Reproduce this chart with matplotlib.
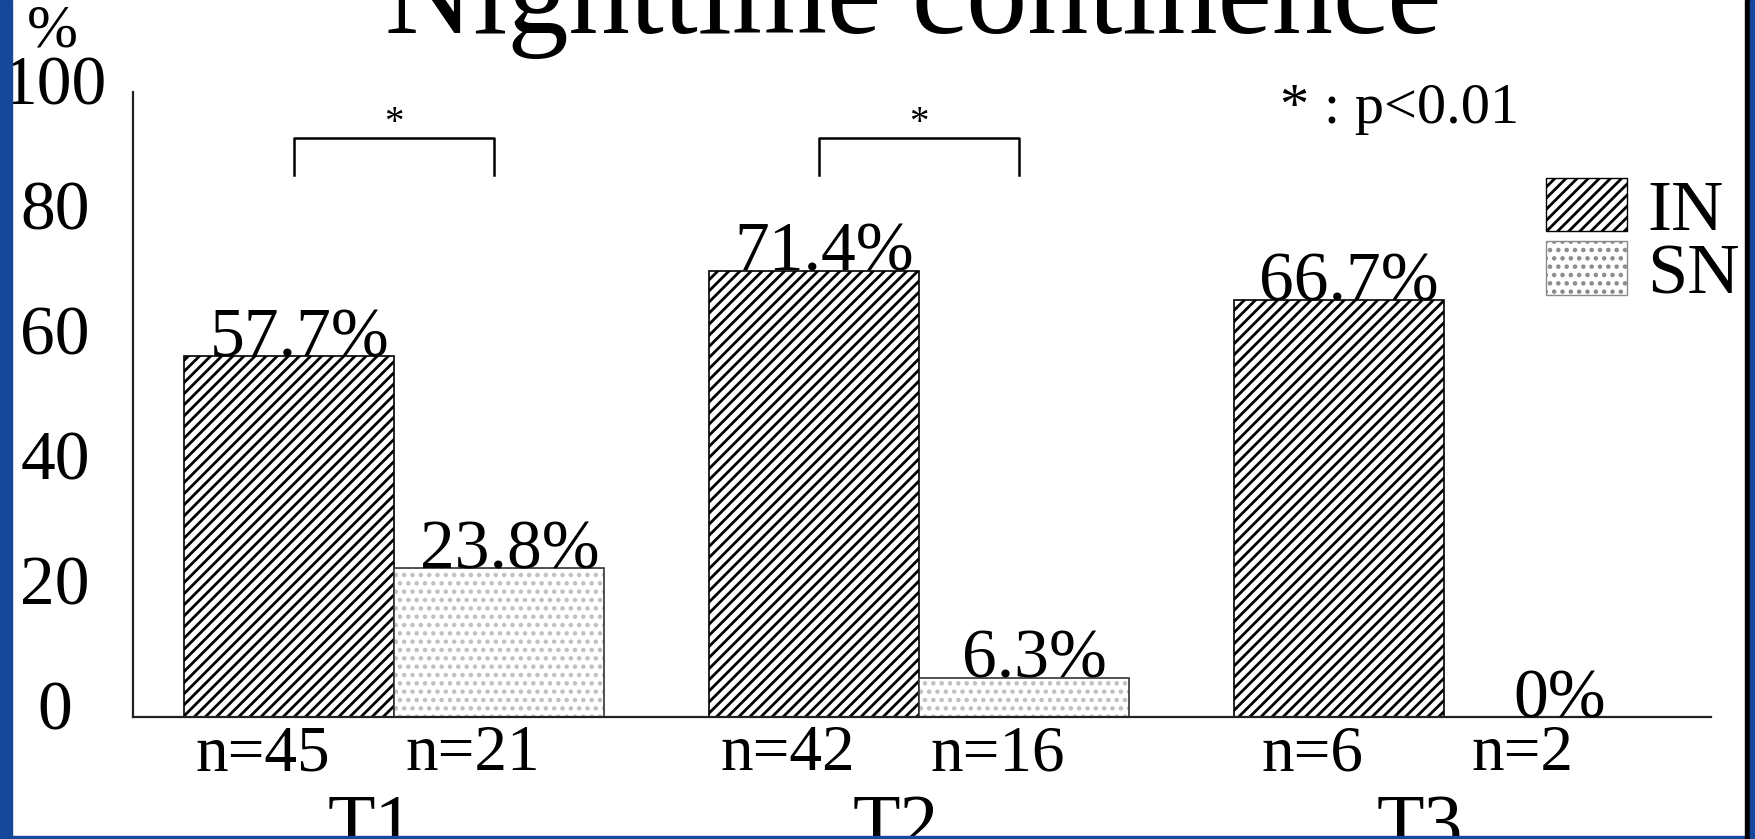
import numpy as np
import matplotlib
matplotlib.use('Agg')
import matplotlib.pyplot as plt
import matplotlib.transforms as mtransforms
from matplotlib.patches import Patch, Rectangle

# data
groups = ['T1', 'T2', 'T3']
in_pct = [57.7, 71.4, 66.7]
sn_pct = [23.8, 6.3, 0.0]
in_n = [45, 42, 6]
sn_n = [21, 16, 2]
sig_groups = [0, 1]          # groups with a significance bracket
sig_note = '* : p<0.01'
yticks = [0, 20, 40, 60, 80, 100]

plt.rcParams['font.family'] = ['Liberation Serif', 'DejaVu Serif']
plt.rcParams['hatch.linewidth'] = 2.0

W, H = 1756, 839
blue = '#15489a'
fig = plt.figure(figsize=(W / 100, H / 100), dpi=100, facecolor='white')
ax = fig.add_axes([133 / W, 1 - 717 / H, (1711 - 133) / W, (717 - 92) / H])

x = np.arange(len(groups))
w = 0.4
x_in = x - w / 2
x_sn = x + w / 2

# IN bars: dense diagonal hatch, SN bars: faint dots
ax.bar(x_in, in_pct, w, color='white', edgecolor='black', hatch='///', lw=0)
ax.bar(x_in, in_pct, w, fill=False, edgecolor='black', lw=1.2)
ax.bar(x_sn, sn_pct, w, color='white', edgecolor='#c0c0c0', hatch='..', lw=0)
ax.bar(x_sn, sn_pct, w, fill=False, edgecolor='#333333', lw=1.2)

# value labels on top of bars
for xi, v in zip(x_in, in_pct):
    ax.text(xi + 0.02, v, f'{v:g}%', ha='center', va='baseline', fontsize=50)
for xi, v in zip(x_sn, sn_pct):
    ax.text(xi + 0.02, v, f'{v:g}%', ha='center', va='baseline', fontsize=50)

# n= labels and group names under the axis
for xi, n in zip(x_in, in_n):
    ax.text(xi - 0.05, -8.5, f'n={n}', ha='center', va='baseline',
            fontsize=47, clip_on=False)
for xi, n in zip(x_sn, sn_n):
    ax.text(xi - 0.05, -8.5, f'n={n}', ha='center', va='baseline',
            fontsize=47, clip_on=False)
for xi, g in zip(x, groups):
    ax.text(xi - 0.045, -21.0, g, ha='center', va='baseline',
            fontsize=56, clip_on=False)

# significance brackets
for g in sig_groups:
    ax.plot([g - 0.19, g - 0.19, g + 0.19, g + 0.19], [86.7, 92.6, 92.6, 86.7],
            color='black', lw=1.8, clip_on=False)
    ax.text(g, 93.4, '*', ha='center', va='baseline', fontsize=28)
ax.text(1.688, 95.0, sig_note, ha='left', va='baseline', fontsize=42)

# legend
handles = [Patch(facecolor='white', edgecolor='black', hatch='///', label='IN'),
           Patch(facecolor='white', edgecolor='#8a8a8a', hatch='..', label='SN')]
fs_px = 52 * 100 / 72
ax.legend(handles=handles, loc='upper left',
          bbox_to_anchor=(1546 / W, 1 - 178 / H), bbox_transform=fig.transFigure,
          frameon=False, fontsize=52, handlelength=81 / fs_px,
          handleheight=55 / fs_px, handletextpad=20 / fs_px,
          labelspacing=-0.05, borderpad=0, borderaxespad=0)

# axes styling
ax.set_xlim(-0.497, 2.509)
ax.set_ylim(0, 100)
ax.set_xticks([])
ax.set_yticks(yticks)
ax.tick_params(axis='y', length=0, pad=56, labelsize=50)
lift = mtransforms.ScaledTranslation(0, 12 / 100, fig.dpi_scale_trans)
for lab in ax.get_yticklabels():
    lab.set_ha('center')
    lab.set_transform(lab.get_transform() + lift)
for s in ['top', 'right']:
    ax.spines[s].set_visible(False)
for s in ['left', 'bottom']:
    ax.spines[s].set_color('#222222')
    ax.spines[s].set_linewidth(1.6)
ax.set_facecolor('none')

# title (cut off at the top of the slide) and unit label
fig.text(913 / W, 1 - 33 / H, 'Nighttime continence', ha='center',
         va='baseline', fontsize=88)
fig.text(52 / W, 1 - 32 / H, '%', ha='center', va='center', fontsize=44)

# slide border
tf = fig.transFigure
fig.add_artist(Rectangle((0, 0), 12 / W, 1, transform=tf, color=blue, zorder=10))
fig.add_artist(Rectangle((0, 0), 1, 3 / H, transform=tf, color=blue, zorder=10))
fig.add_artist(Rectangle((1745 / W, 0), 5 / W, 1, transform=tf, color='black', zorder=10))
fig.add_artist(Rectangle((1750 / W, 0), 6 / W, 1, transform=tf, color=blue, zorder=10))

fig.savefig('out.png', dpi=100, facecolor=fig.get_facecolor())
